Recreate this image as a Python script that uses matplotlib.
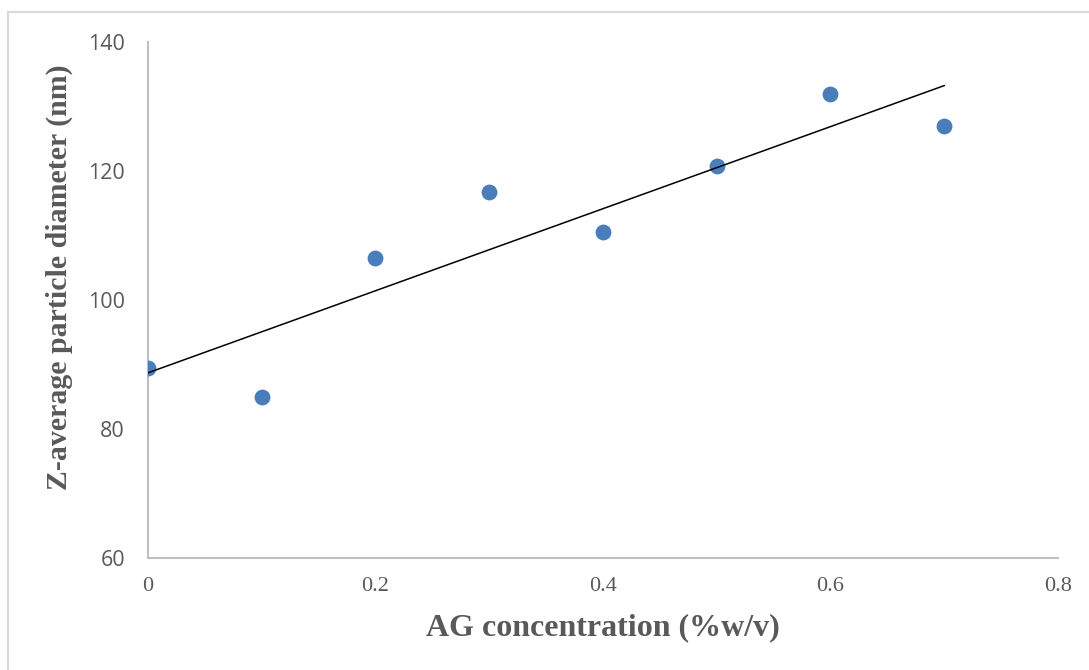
import matplotlib
matplotlib.use("Agg")
import matplotlib.pyplot as plt
from matplotlib.patches import Rectangle
import numpy as np

# AG concentration (%w/v) vs Z-average diameter (nm)
conc = [0.0, 0.1, 0.2, 0.3, 0.4, 0.5, 0.6, 0.7]
diam = [89.4, 85.0, 106.5, 116.7, 110.5, 120.8, 131.9, 127.0]

grey = "#595959"
fig = plt.figure(figsize=(10.89, 6.7), dpi=100)
ax = fig.add_axes([0.1359, 0.1672, 0.8356, 0.7701])

# chart area outline
fig.patches.append(Rectangle((8 / 1089, -0.01), 1.02, 1 - 12 / 670 + 0.01,
                             transform=fig.transFigure, fill=False,
                             edgecolor="#D9D9D9", lw=1.5, zorder=0))

ax.scatter(conc, diam, s=130, color="#4A7EBB", zorder=3, linewidths=0)

# linear trendline
k, b = np.polyfit(conc, diam, 1)
xs = np.array([conc[0], conc[-1]])
ax.plot(xs, k * xs + b, color="black", lw=1.1, zorder=4)

ax.set_xlim(0, 0.8)
ax.set_ylim(60, 140)
ax.set_xticks([0, 0.2, 0.4, 0.6, 0.8])
ax.set_xticklabels(["0", "0.2", "0.4", "0.6", "0.8"])
ax.set_yticks([60, 80, 100, 120, 140])

for s in ["top", "right"]:
    ax.spines[s].set_visible(False)
for s in ["left", "bottom"]:
    ax.spines[s].set_color("#BFBFBF")
    ax.spines[s].set_linewidth(1.5)

ax.tick_params(axis="both", length=0, colors=grey)
ax.tick_params(axis="y", pad=16.5)
ax.tick_params(axis="x", pad=14)
for t in ax.get_yticklabels():
    t.set_fontfamily("Open Sans")
    t.set_fontsize(15.5)
for t in ax.get_xticklabels():
    t.set_fontfamily("Liberation Serif")
    t.set_fontsize(16)

ax.set_xlabel("AG concentration (%w/v)", fontfamily="Liberation Serif",
              fontweight="bold", fontsize=23, color=grey, labelpad=12)
ax.set_ylabel("Z-average particle diameter (nm)", fontfamily="Liberation Serif",
              fontweight="bold", fontsize=21.5, color=grey)
ax.yaxis.set_label_coords(-0.082, 0.545)

fig.savefig("out.png", dpi=100)
